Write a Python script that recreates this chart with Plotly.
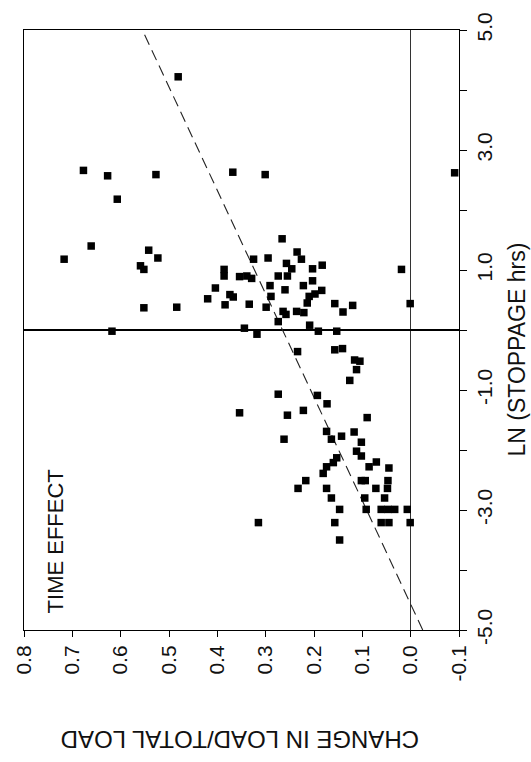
import plotly.graph_objects as go

# ---- data (x: change in load / total load, y: LN stoppage hrs)
change = [0.481, 0.677, 0.627, 0.607, 0.527, 0.368, 0.301, -0.091,
          0.717, 0.661, 0.542, 0.523, 0.559, 0.552, 0.552, 0.484, 0.420, 0.618,
          0.266, 0.235, 0.226, 0.325, 0.295, 0.257, 0.246, 0.203, 0.183, 0.386,
          0.386, 0.354, 0.339, 0.329, 0.274, 0.255, 0.203, 0.222, 0.404, 0.291,
          0.260, 0.184, 0.198, 0.210, 0.374, 0.367, 0.384, 0.334, 0.289, 0.299,
          0.214, 0.236, 0.221, 0.264, 0.258, 0.157, 0.140, 0.120, 0.019, 0.001,
          0.274, 0.344, 0.209, 0.191, 0.153, 0.318,
          0.234, 0.157, 0.141, 0.116, 0.105, 0.112, 0.126, 0.274, 0.193, 0.173,
          0.354, 0.255, 0.222, 0.090, 0.174, 0.143, 0.117, 0.262, 0.164, 0.102,
          0.112, 0.102, 0.153, 0.160, 0.174, 0.181, 0.086, 0.071, 0.045, 0.217,
          0.233, 0.174, 0.164, 0.102, 0.094, 0.072, 0.047, 0.048, 0.095, 0.054,
          0.147, 0.092, 0.061, 0.047, 0.033, 0.007, 0.315, 0.157, 0.061, 0.045,
          0.001, 0.147]
ln_stoppage = [4.22, 2.66, 2.57, 2.18, 2.59, 2.63, 2.59, 2.62,
               1.18, 1.40, 1.33, 1.20, 1.07, 1.01, 0.37, 0.38, 0.52, -0.02,
               1.52, 1.30, 1.18, 1.18, 1.20, 1.11, 1.02, 1.02, 1.08, 1.01,
               0.90, 0.89, 0.90, 0.86, 0.90, 0.90, 0.82, 0.74, 0.70, 0.74,
               0.67, 0.66, 0.60, 0.56, 0.59, 0.55, 0.42, 0.43, 0.56, 0.38,
               0.45, 0.31, 0.29, 0.31, 0.26, 0.44, 0.30, 0.41, 1.01, 0.44,
               0.14, 0.03, 0.08, -0.02, -0.02, -0.07,
               -0.36, -0.33, -0.31, -0.50, -0.52, -0.66, -0.84, -1.07, -1.09, -1.23,
               -1.38, -1.42, -1.34, -1.46, -1.69, -1.77, -1.70, -1.82, -1.82, -1.87,
               -2.02, -2.10, -2.13, -2.21, -2.28, -2.39, -2.28, -2.20, -2.30, -2.51,
               -2.64, -2.64, -2.80, -2.51, -2.51, -2.64, -2.51, -2.64, -2.80, -2.80,
               -2.99, -2.99, -2.99, -2.99, -2.99, -2.99, -3.21, -3.21, -3.21, -3.21,
               -3.21, -3.50]

# regression line LN = intercept + slope * change
fit_intercept = -4.57
fit_slope = 17.24

x_ticks = [0.8, 0.7, 0.6, 0.5, 0.4, 0.3, 0.2, 0.1, 0.0, -0.1]
x_tick_labels = ["0.8", "0.7", "0.6", "0.5", "0.4", "0.3", "0.2", "0.1", "0.0", "-0.1"]
y_ticks = [5, 4, 3, 2, 1, 0, -1, -2, -3, -4, -5]
y_tick_labels = ["5.0", "", "3.0", "", "1.0", "", "-1.0", "", "-3.0", "", "-5.0"]

FONT = "Liberation Sans, Arial, sans-serif"

ln_ends = [-5.0, 5.0]
fit_x = [(v - fit_intercept) / fit_slope for v in ln_ends]

fig = go.Figure()
fig.add_trace(go.Scatter(
    x=fit_x, y=ln_ends, mode="lines",
    line=dict(color="#222", width=1.1, dash="11px,6px"),
    hoverinfo="skip", showlegend=False))
fig.add_trace(go.Scatter(
    x=change, y=ln_stoppage, mode="markers",
    marker=dict(symbol="square", size=7.5, color="black", line=dict(width=0)),
    showlegend=False))

fig.update_layout(
    width=531, height=762,
    margin=dict(l=23, r=72, t=20, b=132),
    paper_bgcolor="white", plot_bgcolor="white",
    font=dict(family=FONT, size=21, color="#111"),
    xaxis=dict(
        range=[0.8, -0.1], tickvals=x_ticks, ticktext=x_tick_labels,
        tickangle=-90, ticks="outside", ticklen=6, tickwidth=1, tickcolor="black",
        showline=True, linecolor="black", linewidth=1, mirror=True,
        showgrid=False, zeroline=True, zerolinecolor="#333", zerolinewidth=1,
        tickfont=dict(family=FONT, size=21, color="#111"),
    ),
    yaxis=dict(
        side="right", range=[-5, 5], tickvals=y_ticks, ticktext=y_tick_labels,
        tickangle=-90, ticks="outside", ticklen=7, tickwidth=1, tickcolor="black",
        showline=True, linecolor="black", linewidth=1, mirror=True,
        showgrid=False, zeroline=True, zerolinecolor="black", zerolinewidth=1.5,
        tickfont=dict(family=FONT, size=21, color="#111"),
    ),
    annotations=[
        dict(text="CHANGE IN LOAD/TOTAL LOAD", textangle=180,
             xref="paper", yref="paper", x=(239.5 - 23) / 436, y=-(740.7 - 630) / 610,
             xanchor="center", yanchor="middle", showarrow=False,
             font=dict(family=FONT, size=24, color="#111")),
        dict(text="LN (STOPPAGE hrs)", textangle=-90,
             xref="paper", yref="paper", x=(517 - 23) / 436, y=(630 - 345) / 610,
             xanchor="center", yanchor="middle", showarrow=False,
             font=dict(family=FONT, size=23, color="#111")),
        dict(text="TIME EFFECT", textangle=-90,
             xref="paper", yref="paper", x=(55 - 23) / 436, y=(630 - 540) / 610,
             xanchor="center", yanchor="middle", showarrow=False,
             font=dict(family=FONT, size=22, color="#111")),
    ],
)

fig.write_html("out.html")
